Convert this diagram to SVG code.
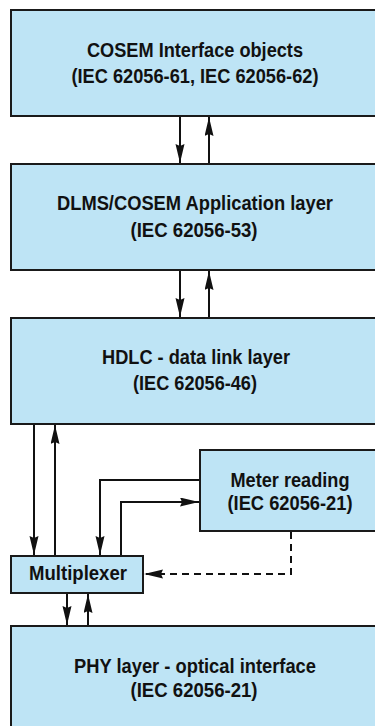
<svg xmlns="http://www.w3.org/2000/svg" width="375" height="726" viewBox="0 0 375 726">
<style>
.box{fill:#bee4f5;stroke:#1a1a1a;stroke-width:2}
.t{font-family:"Liberation Sans",Arial,sans-serif;font-weight:bold;font-size:21px;fill:#111;text-anchor:middle}
.c{fill:none;stroke:#111;stroke-width:2}
.d{stroke-dasharray:7 5}
</style>
<defs>
<marker id="ah" markerUnits="userSpaceOnUse" markerWidth="20" markerHeight="10" refX="19" refY="4.5" orient="auto">
<path d="M0,0 L19,4.5 L0,9 L2,4.5 z" fill="#111"/>
</marker>
</defs>
<rect width="375" height="726" fill="#fff"/>
<g id="cosem">
<rect class="box" x="11" y="10" width="380" height="106"/>
<text class="t" x="195" y="57" textLength="216" lengthAdjust="spacingAndGlyphs">COSEM Interface objects</text>
<text class="t" x="195" y="83" textLength="247" lengthAdjust="spacingAndGlyphs">(IEC 62056-61, IEC 62056-62)</text>
</g>
<g id="app">
<rect class="box" x="11" y="164" width="380" height="106"/>
<text class="t" x="195" y="210" textLength="276" lengthAdjust="spacingAndGlyphs">DLMS/COSEM Application layer</text>
<text class="t" x="194" y="237" textLength="127" lengthAdjust="spacingAndGlyphs">(IEC 62056-53)</text>
</g>
<g id="hdlc">
<rect class="box" x="11" y="318" width="380" height="106"/>
<text class="t" x="196" y="364" textLength="188" lengthAdjust="spacingAndGlyphs">HDLC - data link layer</text>
<text class="t" x="195" y="390" textLength="124" lengthAdjust="spacingAndGlyphs">(IEC 62056-46)</text>
</g>
<g id="meter">
<rect class="box" x="200" y="450" width="190" height="81"/>
<text class="t" x="290" y="487" textLength="119" lengthAdjust="spacingAndGlyphs">Meter reading</text>
<text class="t" x="290" y="510" textLength="125" lengthAdjust="spacingAndGlyphs">(IEC 62056-21)</text>
</g>
<g id="mux">
<rect class="box" x="11" y="556" width="132" height="37"/>
<text class="t" x="78" y="580" textLength="98" lengthAdjust="spacingAndGlyphs">Multiplexer</text>
</g>
<g id="phy">
<rect class="box" x="11" y="626" width="380" height="110"/>
<text class="t" x="195" y="673" textLength="242" lengthAdjust="spacingAndGlyphs">PHY layer - optical interface</text>
<text class="t" x="194" y="697" textLength="127" lengthAdjust="spacingAndGlyphs">(IEC 62056-21)</text>
</g>
<g id="connectors">
<path class="c" d="M180,117 V163" marker-end="url(#ah)"/>
<path class="c" d="M209,163 V117" marker-end="url(#ah)"/>
<path class="c" d="M180,271 V317" marker-end="url(#ah)"/>
<path class="c" d="M209,317 V271" marker-end="url(#ah)"/>
<path class="c" d="M34,425 V555" marker-end="url(#ah)"/>
<path class="c" d="M55,555 V425" marker-end="url(#ah)"/>
<path class="c" d="M199,480 H100 V555" marker-end="url(#ah)"/>
<path class="c" d="M121,555 V502 H199" marker-end="url(#ah)"/>
<path class="c d" d="M291,532 V574 H144" marker-end="url(#ah)"/>
<path class="c" d="M67,594 V625" marker-end="url(#ah)"/>
<path class="c" d="M88,625 V594" marker-end="url(#ah)"/>
</g>
</svg>
